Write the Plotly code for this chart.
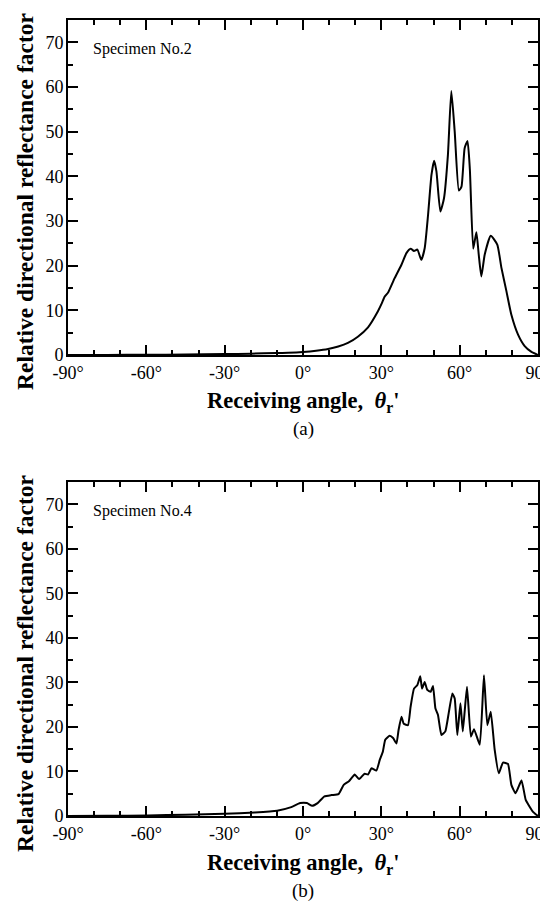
import plotly.graph_objects as go

# Specimen No.2 (panel a)
angle_a = [-90, -75, -60, -45, -30, -20, -10, -5.7, 0, 5, 9.6, 13.5, 17.2, 21, 24.9, 28.7, 30.2, 31.3,
           32.6, 35.1, 37.7, 39.6, 41.2, 42.5, 43.8, 45.3, 46.6, 47.9, 49.2, 50.2, 51.1, 52.6,
           54.0, 55.5, 56.8, 58.1, 59.7, 60.7, 61.9, 63.0, 63.9, 65.2, 66.4, 67.3, 68.3, 69.6,
           71.9, 74.4, 76.0, 77.9, 79.8, 82.4, 84.9, 87.5, 90]
value_a = [0.0, 0.02, 0.05, 0.1, 0.2, 0.3, 0.45, 0.5, 0.67, 0.95, 1.34, 1.9, 2.7, 4.1, 6.2, 9.8, 11.6, 13.1,
           14.0, 17.2, 20.2, 22.8, 23.8, 23.3, 23.6, 21.3, 23.9, 31.4, 40.3, 43.5, 41.1, 32.1,
           35.1, 44.8, 59.1, 50.0, 36.8, 37.7, 46.3, 47.9, 41.6, 23.8, 27.5, 22.5, 17.6, 22.5,
           26.7, 24.7, 19.5, 14.3, 9.0, 4.5, 2.0, 0.7, 0.0]

# Specimen No.4 (panel b)
angle_b = [-90, -75, -59.4, -45, -30, -18.5, -9.9, -4.5, -1.1, 1.5, 3.5, 5.6, 8.2, 10.9, 13.6, 15.6,
           17.6, 19.8, 21.5, 23.6, 24.9, 26.2, 28.1, 29.4, 30.6, 31.5, 33.2, 34.5, 35.8, 36.6,
           37.7, 38.6, 40.2, 41.2, 42.5, 43.8, 44.9, 45.6, 46.6, 47.6, 48.9, 49.8, 50.7, 51.7,
           53.0, 54.5, 55.8, 57.2, 58.1, 59.1, 60.3, 61.2, 62.8, 64.3, 65.5, 67.7, 69.3, 70.6,
           71.9, 73.4, 75.0, 76.6, 78.5, 79.8, 81.4, 83.7, 85.3, 88.0, 90]
value_b = [0.0, 0.05, 0.12, 0.3, 0.5, 0.8, 1.2, 2.0, 2.9, 2.9, 2.3, 2.9, 4.4, 4.7, 4.9, 7.0,
           7.8, 9.3, 8.3, 9.5, 9.3, 10.7, 10.2, 12.6, 14.5, 17.1, 18.0, 17.5, 16.3, 19.3,
           22.3, 20.7, 20.4, 24.5, 28.6, 29.4, 31.4, 28.6, 30.1, 28.3, 27.9, 29.2, 24.2, 22.7,
           18.2, 19.0, 23.1, 27.5, 26.4, 18.2, 25.3, 19.0, 29.0, 17.8, 19.5, 16.0, 31.6, 20.4,
           23.4, 14.9, 9.6, 12.0, 11.7, 7.0, 5.1, 8.0, 3.6, 1.0, 0.0]

x_ticks = [-90, -60, -30, 0, 30, 60, 90]
x_ticktext = ["-90°", "-60°", "-30°", "0°", "30°", "60°", "90°"]
y_ticks = [0, 10, 20, 30, 40, 50, 60, 70]

panel_labels = ["Specimen No.2", "Specimen No.4"]
sub_labels = ["(a)", "(b)"]
x_title = "Receiving angle,  <i>θ</i><sub>r</sub>'"
y_title = "Relative directional reflectance factor"

FONT = "Liberation Serif"
W, H = 548, 901
ML, MR, MT, MB = 60, 18, 12, 93
PH = H - MT - MB


def py(ypx):
    return (H - MB - ypx) / PH


fig = go.Figure()
fig.add_trace(go.Scatter(x=angle_a, y=value_a, mode="lines", xaxis="x", yaxis="y",
                         line=dict(color="black", width=2, shape="spline", smoothing=0.5),
                         showlegend=False))
fig.add_trace(go.Scatter(x=angle_b, y=value_b, mode="lines", xaxis="x2", yaxis="y2",
                         line=dict(color="black", width=2, shape="spline", smoothing=0.4),
                         showlegend=False))

xax = dict(range=[-90, 90], tickmode="array", tickvals=x_ticks, ticktext=x_ticktext,
           ticks="inside", ticklen=10, tickwidth=1.5, tickcolor="black",
           minor=dict(tickmode="linear", tick0=-90, dtick=10, ticks="inside", ticklen=5,
                      tickwidth=1.5, tickcolor="black"),
           showline=True, linewidth=2, linecolor="black", mirror="ticks",
           showgrid=False, zeroline=False, automargin=False, ticklabelstandoff=0,
           tickfont=dict(family=FONT, size=18, color="black"))
yax = dict(range=[0, 75], tickmode="array", tickvals=y_ticks,
           ticks="inside", ticklen=10, tickwidth=1.5, tickcolor="black",
           minor=dict(tickmode="linear", tick0=0, dtick=5, ticks="inside", ticklen=5,
                      tickwidth=1.5, tickcolor="black"),
           showline=True, linewidth=2, linecolor="black", mirror="ticks",
           showgrid=False, zeroline=False, automargin=False, ticklabelstandoff=-1,
           tickfont=dict(family=FONT, size=18, color="black"))

top_bottom_px = 347
bot_top_px = 474

fig.update_layout(
    width=W, height=H,
    margin=dict(l=ML, r=MR, t=MT, b=MB),
    paper_bgcolor="white", plot_bgcolor="white",
    template="none",
    font=dict(family=FONT, color="black"),
    xaxis=dict(xax, anchor="y"),
    yaxis=dict(yax, anchor="x", domain=[py(top_bottom_px), 1]),
    xaxis2=dict(xax, anchor="y2"),
    yaxis2=dict(yax, anchor="x2", domain=[0, py(bot_top_px)]),
)

offset = 462
annos = []
for i in range(2):
    dy = offset * i
    annos.append(dict(text=panel_labels[i], xref="paper", yref="paper",
                      x=(83 - ML) / (W - ML - MR), y=py(41 + dy), xanchor="left", yanchor="middle",
                      showarrow=False, font=dict(family=FONT, size=16, color="black")))
    annos.append(dict(text="<b>" + x_title + "</b>", xref="paper", yref="paper",
                      x=0.5, y=py(394 + dy), xanchor="center", yanchor="middle",
                      showarrow=False, font=dict(family=FONT, size=22.5, color="black")))
    annos.append(dict(text=sub_labels[i], xref="paper", yref="paper",
                      x=0.5, y=py(421 + dy), xanchor="center", yanchor="middle",
                      showarrow=False, font=dict(family=FONT, size=19, color="black")))
    annos.append(dict(text="<b>" + y_title + "</b>", xref="paper", yref="paper",
                      x=0, xshift=-(ML - 17), y=py(194 + dy), xanchor="center", yanchor="middle",
                      textangle=-90, showarrow=False,
                      font=dict(family=FONT, size=23.5, color="black")))
fig.update_layout(annotations=annos)

fig.write_html("out.html")
